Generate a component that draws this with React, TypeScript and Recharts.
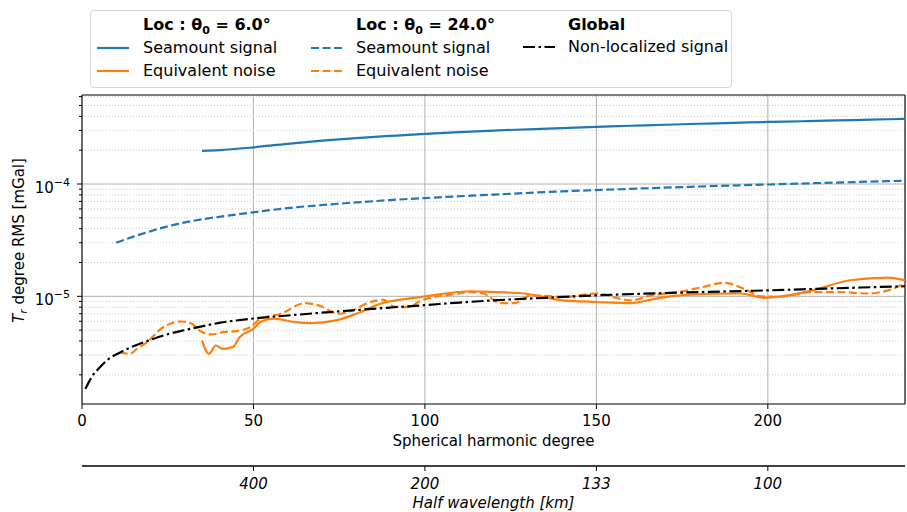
import React from 'react';
import { LineChart, Line, XAxis, YAxis, CartesianGrid, ReferenceLine } from 'recharts';

// ---------- data ----------
const seamount6Deg = [35, 40, 50, 60, 70, 80, 90, 100, 110, 120, 130, 140, 150, 160, 170, 180, 190, 200, 210, 220, 230, 240];
const seamount6Val = [1.97e-4, 2.0e-4, 2.12e-4, 2.28e-4, 2.43e-4, 2.56e-4, 2.68e-4, 2.8e-4, 2.9e-4, 2.99e-4, 3.07e-4, 3.15e-4, 3.23e-4, 3.3e-4, 3.37e-4, 3.44e-4, 3.5e-4, 3.57e-4, 3.62e-4, 3.68e-4, 3.74e-4, 3.8e-4];

const seamount24Deg = [10, 15, 20, 25, 30, 35, 40, 50, 60, 70, 80, 90, 100, 120, 140, 160, 180, 200, 220, 240];
const seamount24Val = [3.0e-5, 3.4e-5, 3.8e-5, 4.2e-5, 4.55e-5, 4.85e-5, 5.1e-5, 5.6e-5, 6.1e-5, 6.5e-5, 6.85e-5, 7.2e-5, 7.5e-5, 8.05e-5, 8.6e-5, 9.05e-5, 9.5e-5, 9.9e-5, 1.03e-4, 1.07e-4];

const noise6Deg = [35, 37, 39, 41, 44, 46, 50, 52, 56, 62, 67, 74, 80, 87, 97, 106, 113, 121, 129, 140, 150, 160, 167, 176, 192, 199, 206, 213, 224, 235, 240];
const noise6Val = [4.05e-6, 3.08e-6, 3.65e-6, 3.41e-6, 3.53e-6, 4.34e-6, 5.14e-6, 5.9e-6, 6.32e-6, 5.9e-6, 5.78e-6, 6.1e-6, 7.0e-6, 8.6e-6, 9.7e-6, 1.06e-5, 1.11e-5, 1.09e-5, 1.06e-5, 9.2e-6, 8.9e-6, 8.7e-6, 9.5e-6, 1.03e-5, 1.06e-5, 9.7e-6, 1.02e-5, 1.13e-5, 1.39e-5, 1.47e-5, 1.39e-5];

const noise24Deg = [11, 14, 16, 19, 23, 29, 32, 35, 38, 41, 45, 49, 52, 58, 65, 69, 75, 79, 84, 88, 91, 95, 99, 108, 113, 117, 122, 126, 131, 141, 150, 157, 160, 166, 174, 181, 187, 193, 198, 203, 213, 221, 229, 235, 240];
const noise24Val = [3.18e-6, 3.08e-6, 3.4e-6, 3.9e-6, 5.14e-6, 5.97e-6, 5.7e-6, 4.8e-6, 4.58e-6, 4.8e-6, 4.9e-6, 5.3e-6, 6.3e-6, 7.0e-6, 8.7e-6, 8.3e-6, 7.0e-6, 7.5e-6, 8.9e-6, 9.3e-6, 8.1e-6, 8.0e-6, 9.2e-6, 1.04e-5, 1.09e-5, 1.06e-5, 8.7e-6, 8.7e-6, 1.02e-5, 9.9e-6, 1.06e-5, 9.5e-6, 9.2e-6, 1.02e-5, 1.09e-5, 1.21e-5, 1.32e-5, 1.17e-5, 1.0e-5, 9.9e-6, 1.09e-5, 1.09e-5, 1.06e-5, 1.13e-5, 1.3e-5];

const globalDeg = [1, 3, 5, 8, 11, 15, 20, 25, 30, 40, 50, 60, 70, 80, 90, 100, 110, 120, 135, 150, 175, 200, 220, 240];
const globalVal = [1.5e-6, 1.95e-6, 2.3e-6, 2.8e-6, 3.15e-6, 3.6e-6, 4.1e-6, 4.6e-6, 5.0e-6, 5.8e-6, 6.35e-6, 6.75e-6, 7.15e-6, 7.55e-6, 7.95e-6, 8.35e-6, 8.8e-6, 9.2e-6, 9.7e-6, 1.02e-5, 1.08e-5, 1.13e-5, 1.18e-5, 1.23e-5];

const xTicks = [0, 50, 100, 150, 200];
const hwTicks = [50, 100, 150, 200];
const hwLabels = ['400', '200', '133', '100'];
const yMajorTicks = [1e-5, 1e-4];
const yMajorExp = ['\u22125', '\u22124'];
const yMinorTicks = [
  2e-6, 3e-6, 4e-6, 5e-6, 6e-6, 7e-6, 8e-6, 9e-6,
  2e-5, 3e-5, 4e-5, 5e-5, 6e-5, 7e-5, 8e-5, 9e-5,
  2e-4, 3e-4, 4e-4, 5e-4, 6e-4,
];
const xDomain = [0, 240];
const yDomain = [1.1e-6, 6.2e-4];

// ---------- styling ----------
const FONT = 'DejaVu Sans, Verdana, sans-serif';
const BLUE = '#1f77b4';
const ORANGE = '#ff7f0e';
const LW = 2.2;
const DASH = '8 3.5';
const DASHDOT = '12 3.5 2.5 3.5';

const toPts = (d: number[], v: number[]) => d.map((l, i) => ({ l, v: v[i] }));

const YTick = (props: any) => {
  const { x, y, payload } = props;
  const v = payload.value;
  const idx = yMajorTicks.findIndex((m) => Math.abs(m - v) / m < 1e-6);
  const major = idx >= 0;
  return (
    <g>
      <line x1={x - (major ? 5 : 3)} x2={x} y1={y} y2={y} stroke="#000" strokeWidth={1} />
      {major && (
        <text x={x - 12} y={y + 9} textAnchor="end" fontSize={15} fontFamily={FONT} fill="#000">
          10<tspan dy={-7} fontSize={11}>{yMajorExp[idx]}</tspan>
        </text>
      )}
    </g>
  );
};

const XTick = (props: any) => {
  const { x, y, payload } = props;
  return (
    <g>
      <line x1={x} x2={x} y1={y} y2={y + 5} stroke="#000" strokeWidth={1} />
      <text x={x} y={y + 22} textAnchor="middle" fontSize={15} fontFamily={FONT} fill="#000">
        {payload.value}
      </text>
    </g>
  );
};

const HWTick = (props: any) => {
  const { x, y, payload } = props;
  const i = hwTicks.indexOf(payload.value);
  return (
    <g>
      <line x1={x} x2={x} y1={y} y2={y + 5} stroke="#000" strokeWidth={1} />
      <text x={x} y={y + 22.5} textAnchor="middle" fontSize={15} fontStyle="italic" fontFamily={FONT} fill="#000">
        {i >= 0 ? hwLabels[i] : ''}
      </text>
    </g>
  );
};

const xTitle = (text: string, dy: number, italic: boolean) => (props: any) => {
  const vb = props.viewBox || { x: 82, y: 404, width: 823, height: 62 };
  return (
    <text x={vb.x + vb.width / 2} y={vb.y + dy} textAnchor="middle" fontSize={15}
      fontStyle={italic ? 'italic' : 'normal'} fontFamily={FONT} fill="#000">
      {text}
    </text>
  );
};

const yTitle = (props: any) => {
  const vb = props.viewBox || { x: 0, y: 95, width: 82, height: 309 };
  const cx = 24;
  const cy = vb.y + vb.height / 2 - 9;
  return (
    <text x={cx} y={cy} transform={`rotate(-90, ${cx}, ${cy})`} textAnchor="middle" fontSize={15} fontFamily={FONT} fill="#000">
      <tspan fontStyle="italic">T</tspan>
      <tspan fontStyle="italic" fontSize={11} dy={3}>r</tspan>
      <tspan dy={-3}> degree RMS [mGal]</tspan>
    </text>
  );
};

// ---------- legend ----------
const Handle = ({ x, y, color, dash }: { x: number; y: number; color: string; dash?: string }) => (
  <svg style={{ position: 'absolute', left: x, top: y - 4 }} width={32} height={8}>
    <line x1={0} y1={4} x2={32} y2={4} stroke={color} strokeWidth={LW} strokeDasharray={dash} />
  </svg>
);

const LText = ({ x, y, children, bold }: any) => (
  <div style={{
    position: 'absolute', left: x, top: y - 10, lineHeight: '20px', height: 20, fontSize: 16,
    fontFamily: FONT, whiteSpace: 'nowrap', fontWeight: bold ? 'bold' : 'normal', color: '#000',
  }}>{children}</div>
);

const Sub = ({ children }: any) => (
  <span style={{ fontSize: 11, position: 'relative', top: 4, lineHeight: 0 }}>{children}</span>
);

const LegendBox = () => (
  <div style={{ position: 'absolute', left: 0, top: 0, width: 907, height: 512, pointerEvents: 'none' }}>
    <div style={{
      position: 'absolute', left: 90, top: 10, width: 640, height: 76,
      border: '1px solid #d6d6d6', borderRadius: 4, background: 'rgba(255,255,255,0.85)',
    }} />
    <LText x={143} y={25} bold>Loc : θ<Sub>0</Sub> = 6.0°</LText>
    <LText x={356} y={25} bold>Loc : θ<Sub>0</Sub> = 24.0°</LText>
    <LText x={568} y={25} bold>Global</LText>

    <Handle x={97} y={48} color={BLUE} />
    <LText x={143} y={48}>Seamount signal</LText>
    <Handle x={97} y={71} color={ORANGE} />
    <LText x={143} y={71}>Equivalent noise</LText>

    <Handle x={311} y={48} color={BLUE} dash={DASH} />
    <LText x={356} y={48}>Seamount signal</LText>
    <Handle x={311} y={71} color={ORANGE} dash={DASH} />
    <LText x={356} y={71}>Equivalent noise</LText>

    <Handle x={523} y={47} color="#000" dash={DASHDOT} />
    <LText x={568} y={47}>Non-localized signal</LText>
  </div>
);

export default function App() {
  return (
    <div style={{ position: 'absolute', left: 0, top: 0, width: 907, height: 512, background: '#fff' }}>
      <LineChart width={907} height={512} margin={{ top: 95, right: 2, bottom: 0, left: 0 }}>
        <CartesianGrid horizontal={false} vertical stroke="#b0b0b0" strokeWidth={1} />
        {yMinorTicks.map((v) => (
          <ReferenceLine key={'m' + v} y={v} stroke="#c4c4c4" strokeWidth={0.9} strokeDasharray="1 2" />
        ))}
        {yMajorTicks.map((v) => (
          <ReferenceLine key={'M' + v} y={v} stroke="#b0b0b0" strokeWidth={1} />
        ))}
        <XAxis
          dataKey="l" type="number" domain={xDomain} ticks={xTicks} allowDataOverflow
          height={62} tickSize={0} tickMargin={0} tickLine={false} interval={0}
          axisLine={{ stroke: '#000', strokeWidth: 1 }} tick={<XTick />}
          label={{ content: xTitle('Spherical harmonic degree', 42, false) }}
        />
        <XAxis
          xAxisId="hw" dataKey="l" type="number" domain={xDomain} ticks={hwTicks} allowDataOverflow
          height={46} tickSize={0} tickMargin={0} tickLine={false} interval={0}
          axisLine={{ stroke: '#000', strokeWidth: 1.3 }} tick={<HWTick />}
          label={{ content: xTitle('Half wavelength [km]', 41.7, true) }}
        />
        <YAxis
          type="number" scale="log" domain={yDomain} allowDataOverflow
          ticks={[...yMinorTicks, ...yMajorTicks].sort((a, b) => a - b)}
          width={82} tickSize={0} tickMargin={0} tickLine={false} interval={0}
          axisLine={{ stroke: '#000', strokeWidth: 1 }} tick={<YTick />}
          label={{ content: yTitle }}
        />
        <ReferenceLine y={yDomain[1]} stroke="#000" strokeWidth={1} />
        <ReferenceLine x={xDomain[1]} stroke="#000" strokeWidth={1} />

        <Line data={toPts(seamount6Deg, seamount6Val)} dataKey="v" type="monotone" stroke={BLUE}
          strokeWidth={LW} dot={false} isAnimationActive={false} />
        <Line data={toPts(seamount24Deg, seamount24Val)} dataKey="v" type="monotone" stroke={BLUE}
          strokeWidth={LW} strokeDasharray={DASH} dot={false} isAnimationActive={false} />
        <Line data={toPts(noise6Deg, noise6Val)} dataKey="v" type="monotone" stroke={ORANGE}
          strokeWidth={LW} dot={false} isAnimationActive={false} />
        <Line data={toPts(noise24Deg, noise24Val)} dataKey="v" type="monotone" stroke={ORANGE}
          strokeWidth={LW} strokeDasharray={DASH} dot={false} isAnimationActive={false} />
        <Line data={toPts(globalDeg, globalVal)} dataKey="v" type="monotone" stroke="#000"
          strokeWidth={LW} strokeDasharray={DASHDOT} dot={false} isAnimationActive={false} />
      </LineChart>
      <LegendBox />
    </div>
  );
}
